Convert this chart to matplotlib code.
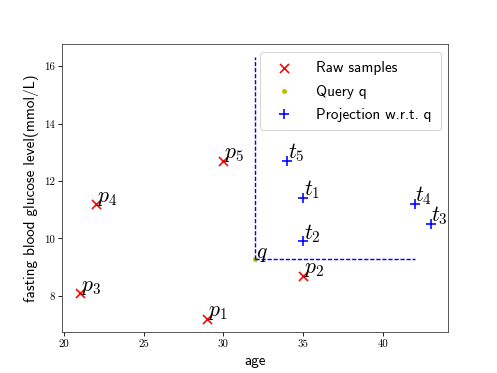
import matplotlib
matplotlib.use("Agg")
import matplotlib.pyplot as plt

plt.rcParams['mathtext.fontset'] = 'cm'

# raw samples (age, glucose)
raw_age = [29, 35, 21, 22, 30]
raw_glu = [7.2, 8.7, 8.1, 11.2, 12.7]
raw_names = ['$p_1$', '$p_2$', '$p_3$', '$p_4$', '$p_5$']

# query point
q_age = 32
q_glu = 9.3

# projection w.r.t. q
proj_age = [35, 35, 43, 42, 34]
proj_glu = [11.4, 9.9, 10.5, 11.2, 12.7]
proj_names = ['$t_1$', '$t_2$', '$t_3$', '$t_4$', '$t_5$']

# dashed guide ends
guide_top = 16.3
guide_right = 42

fig = plt.figure(figsize=(6.4, 4.8), dpi=77.8)
ax = plt.gca()

ax.plot([q_age, q_age], [q_glu, guide_top], color='#0000ff', lw=1.3, dashes=(3, 1.3))
ax.plot([q_age, guide_right], [q_glu, q_glu], color='#0000ff', lw=1.3, dashes=(3, 1.3))

ax.scatter(raw_age, raw_glu, marker='x', c='r', s=70, label='Raw samples')
ax.scatter([q_age], [q_glu], marker='.', c='y', s=50, label='Query q')
ax.scatter(proj_age, proj_glu, marker='+', c='b', s=70, label='Projection w.r.t. q')

for x, y, n in zip(raw_age, raw_glu, raw_names):
    ax.text(x + 0.05, y + 0.1, n, fontsize=20)
for x, y, n in zip(proj_age, proj_glu, proj_names):
    ax.text(x + 0.05, y + 0.1, n, fontsize=20)
ax.text(q_age + 0.02, q_glu + 0.02, '$q$', fontsize=20)

ax.set_xlabel('age', fontsize=14, fontname='cmss10')
ax.set_ylabel('fasting blood glucose level(mmol/L)', fontsize=14, fontname='cmss10')
for lab in ax.get_xticklabels() + ax.get_yticklabels():
    lab.set_fontname('cmr10')
for sp in ax.spines.values():
    sp.set_color('#444444')

ax.legend(loc='upper right', prop={'family': 'cmss10', 'size': 14},
          borderpad=0.6, labelspacing=0.6, handletextpad=1.1)

plt.savefig('out.png', dpi=77.8)
